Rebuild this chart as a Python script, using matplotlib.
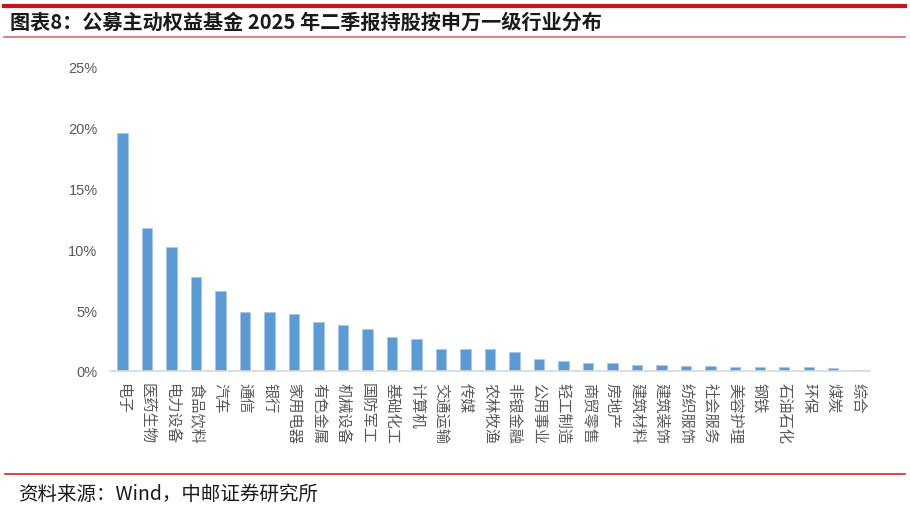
import matplotlib
matplotlib.use("Agg")
import matplotlib.pyplot as plt
from matplotlib.lines import Line2D
from matplotlib.ticker import FuncFormatter

plt.rcParams['font.family'] = ['Noto Sans CJK SC', 'DejaVu Sans']

# 申万一级行业及占比(%)
industries = ['电子', '医药生物', '电力设备', '食品饮料', '汽车', '通信', '银行', '家用电器',
              '有色金属', '机械设备', '国防军工', '基础化工', '计算机', '交通运输', '传媒',
              '农林牧渔', '非银金融', '公用事业', '轻工制造', '商贸零售', '房地产', '建筑材料',
              '建筑装饰', '纺织服饰', '社会服务', '美容护理', '钢铁', '石油石化', '环保',
              '煤炭', '综合']
weights = [19.6, 11.75, 10.2, 7.73, 6.58, 4.88, 4.87, 4.71,
           4.03, 3.77, 3.45, 2.82, 2.6, 1.84, 1.81,
           1.78, 1.53, 0.98, 0.8, 0.66, 0.66, 0.52,
           0.47, 0.38, 0.38, 0.31, 0.31, 0.31, 0.31,
           0.23, 0.05]

title = '图表8：公募主动权益基金 2025 年二季报持股按申万一级行业分布'
source = '资料来源：Wind，中邮证券研究所'

fig = plt.figure(figsize=(9.1, 5.1), dpi=100)
ax = fig.add_axes([0.121, 0.2706, 0.835, 0.5961])

x = list(range(len(industries)))
ax.bar(x, [w / 100 for w in weights], width=0.42, color='#5b9bd5',
       edgecolor='#a9c8ea', linewidth=0.6)

ax.set_xlim(-0.5, len(industries) - 0.5)
ax.set_ylim(0, 0.25)
ax.set_yticks([0, 0.05, 0.10, 0.15, 0.20, 0.25])
ax.yaxis.set_major_formatter(FuncFormatter(lambda v, p: '%d%%' % round(v * 100)))
for s in ('top', 'right', 'left'):
    ax.spines[s].set_visible(False)
ax.spines['bottom'].set_color('#d9d9d9')
ax.spines['bottom'].set_linewidth(1.2)
ax.tick_params(axis='y', length=0, pad=9, labelsize=10.5, labelcolor='#595959')
ax.tick_params(axis='x', length=0, pad=8)
for lbl in ax.get_yticklabels():
    lbl.set_family(['Liberation Sans', 'DejaVu Sans'])

ax.set_xticks(x)
ax.set_xticklabels(industries, rotation=-90, va='top', ha='center',
                   fontsize=11, color='#595959')

# 标题与装饰线
fig.add_artist(Line2D([0.004, 0.995], [1 - 7 / 510, 1 - 7 / 510], color='#c8141e', lw=3))
fig.add_artist(Line2D([0.004, 0.995], [1 - 37.5 / 510, 1 - 37.5 / 510], color='#d86a6a', lw=1.2))
fig.add_artist(Line2D([0.006, 0.995], [1 - 475 / 510, 1 - 475 / 510], color='#d02828', lw=1.2))
fig.text(10 / 910, 1 - 22 / 510, title, fontsize=14.5, fontweight='bold',
         color='#1a1a1a', va='center', ha='left')
fig.text(18 / 910, 1 - 494 / 510, source, fontsize=14, color='#1a1a1a',
         va='center', ha='left')

fig.savefig('out.png', dpi=100)
